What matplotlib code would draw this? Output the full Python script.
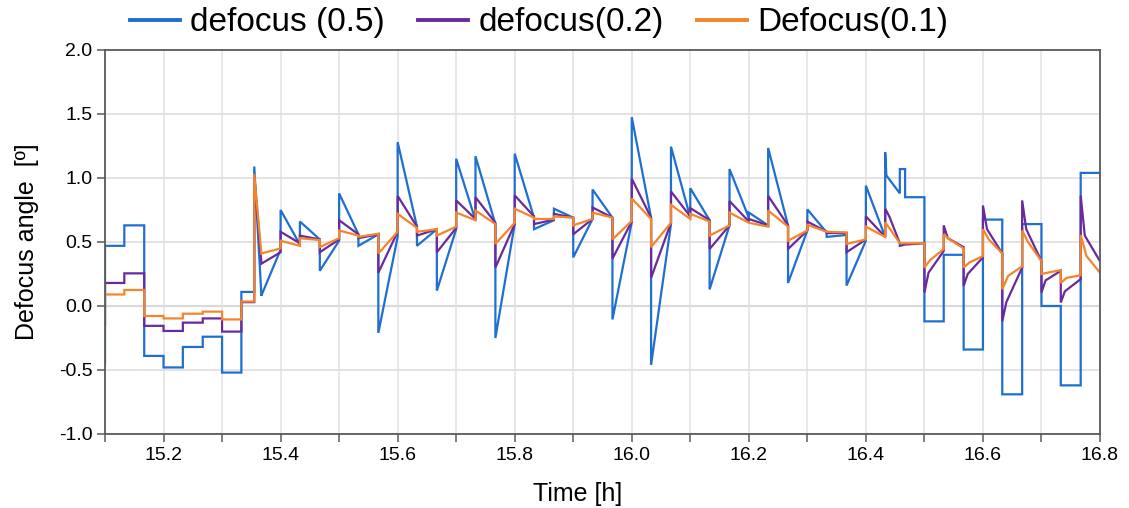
import numpy as np
import matplotlib
matplotlib.use("Agg")
import matplotlib.pyplot as plt
from matplotlib.ticker import MultipleLocator

plt.rcParams['font.family'] = ['Liberation Sans', 'DejaVu Sans']

# ---- data -------------------------------------------------------------
event_t = [15.100, 15.133, 15.167, 15.200, 15.233, 15.267, 15.300, 15.333, 15.355,
           15.367, 15.400, 15.433, 15.467, 15.500, 15.533, 15.567, 15.600, 15.633,
           15.667, 15.700, 15.733, 15.767, 15.800, 15.833, 15.867, 15.900, 15.933,
           15.967, 16.000, 16.033, 16.067, 16.100, 16.133, 16.167, 16.200, 16.233,
           16.267, 16.300, 16.333, 16.367, 16.400, 16.433, 16.458, 16.467, 16.500,
           16.533, 16.567, 16.600, 16.633, 16.667, 16.700, 16.733, 16.767, 16.800]

labels = ["defocus (0.5)", "defocus(0.2)", "Defocus(0.1)"]

blue_init = -0.45
blue_start = [0.47, 0.63, -0.39, -0.48, -0.32, -0.24, -0.52, 0.11, 1.09, 0.08, 0.75, 0.66,
              0.275, 0.88, 0.47, -0.21, 1.28, 0.47, 0.12, 1.15, 1.17, -0.25, 1.19, 0.60,
              0.76, 0.38, 0.91, -0.105, 1.475, -0.46, 1.245, 0.92, 0.13, 1.07, 0.73, 1.235,
              0.18, 0.755, 0.54, 0.16, 0.94, 1.2, 1.07, 0.85, -0.12, 0.40, -0.34, 0.675,
              -0.69, 0.64, 0.0, -0.62, 1.04]
blue_end = [0.47, 0.63, -0.39, -0.48, -0.32, -0.24, -0.52, 0.11, 0.10, 0.44, 0.48, 0.52,
            0.51, 0.56, 0.56, 0.54, 0.62, 0.60, 0.60, 0.67, 0.64, 0.64, 0.69, 0.67, 0.69,
            0.68, 0.69, 0.655, 0.69, 0.64, 0.69, 0.67, 0.63, 0.69, 0.63, 0.63, 0.59, 0.575,
            0.555, 0.51, 0.54, 0.88, 1.07, 0.85, -0.12, 0.40, -0.34, 0.675, -0.69, 0.64,
            0.0, -0.62, 1.04]
blue_knee_seg = [41]
blue_knee_val = [1.02]

purple_init = -0.15
purple_start = [0.18, 0.255, -0.155, -0.195, -0.13, -0.097, -0.2, 0.03, 1.02, 0.33, 0.58,
                0.55, 0.42, 0.67, 0.53, 0.26, 0.86, 0.55, 0.42, 0.825, 0.85, 0.30, 0.864,
                0.64, 0.72, 0.56, 0.77, 0.37, 0.995, 0.22, 0.895, 0.765, 0.445, 0.82, 0.68,
                0.86, 0.445, 0.66, 0.57, 0.42, 0.70, 0.76, 0.47, 0.48, 0.105, 0.63, 0.157,
                0.785, -0.12, 0.825, 0.105, 0.027, 0.864]
purple_end = [0.18, 0.255, -0.155, -0.195, -0.13, -0.097, -0.2, 0.03, 0.35, 0.42, 0.49,
              0.52, 0.52, 0.56, 0.56, 0.58, 0.62, 0.60, 0.61, 0.68, 0.65, 0.64, 0.70, 0.675,
              0.69, 0.68, 0.69, 0.66, 0.69, 0.65, 0.70, 0.67, 0.63, 0.66, 0.63, 0.63, 0.59,
              0.58, 0.57, 0.52, 0.54, 0.49, 0.48, 0.49, 0.43, 0.46, 0.38, 0.41, 0.30, 0.35,
              0.275, 0.21, 0.35]
purple_knee_seg = [41, 44, 45, 46, 47, 48, 49, 50, 51, 52]
purple_knee_val = [0.70, 0.26, 0.53, 0.25, 0.60, 0.03, 0.60, 0.20, 0.115, 0.55]

orange_init = 0.0
orange_start = [0.09, 0.125, -0.078, -0.097, -0.06, -0.044, -0.105, 0.035, 1.03, 0.41, 0.51,
                0.53, 0.46, 0.59, 0.54, 0.41, 0.72, 0.58, 0.55, 0.73, 0.746, 0.485, 0.76,
                0.68, 0.70, 0.63, 0.73, 0.52, 0.84, 0.46, 0.79, 0.72, 0.55, 0.73, 0.65,
                0.746, 0.51, 0.635, 0.58, 0.485, 0.62, 0.655, 0.49, 0.49, 0.30, 0.56, 0.30,
                0.60, 0.13, 0.59, 0.25, 0.18, 0.555]
orange_end = [0.09, 0.125, -0.078, -0.097, -0.06, -0.044, -0.105, 0.035, 0.42, 0.45, 0.47,
              0.515, 0.53, 0.55, 0.565, 0.58, 0.61, 0.60, 0.62, 0.67, 0.64, 0.65, 0.69, 0.68,
              0.69, 0.68, 0.69, 0.665, 0.68, 0.65, 0.68, 0.66, 0.63, 0.65, 0.62, 0.62, 0.59,
              0.58, 0.575, 0.52, 0.54, 0.49, 0.49, 0.49, 0.445, 0.45, 0.39, 0.41, 0.31, 0.35,
              0.28, 0.24, 0.26]
orange_knee_seg = [44, 45, 46, 47, 48, 49, 50, 51, 52]
orange_knee_val = [0.36, 0.52, 0.34, 0.52, 0.235, 0.50, 0.26, 0.22, 0.39]


def build(init, start, end, knee_seg, knee_val, dt):
    kmap = dict(zip(knee_seg, knee_val))
    ts, vs = [event_t[0]], [init]
    for k in range(len(start)):
        ts.append(event_t[k]); vs.append(start[k])
        if k in kmap:
            ts.append(event_t[k] + dt); vs.append(kmap[k])
        ts.append(event_t[k + 1]); vs.append(end[k])
    return ts, vs


series = [
    build(blue_init, blue_start, blue_end, blue_knee_seg, blue_knee_val, 0.002),
    build(purple_init, purple_start, purple_end, purple_knee_seg, purple_knee_val, 0.007),
    build(orange_init, orange_start, orange_end, orange_knee_seg, orange_knee_val, 0.010),
]
colors = ["#1f6fd0", "#6a2a9e", "#f5852a"]

# ---- figure -----------------------------------------------------------
fig = plt.figure(figsize=(11.29, 5.08), dpi=100)
ax = fig.add_axes([105 / 1129, 1 - 434 / 508, 995 / 1129, 384 / 508])

for (ts, vs), c, lab in zip(series, colors, labels):
    ax.plot(ts, vs, color=c, lw=1.6, label=lab, solid_joinstyle='miter')

ax.set_xlim(15.1, 16.8)
ax.set_ylim(-1.0, 2.0)
ax.xaxis.set_major_locator(MultipleLocator(0.2))
ax.xaxis.set_minor_locator(MultipleLocator(0.1))
ax.yaxis.set_major_locator(MultipleLocator(0.5))
ax.xaxis.set_major_formatter(plt.FuncFormatter(lambda v, p: f"{v:.1f}"))
ax.yaxis.set_major_formatter(plt.FuncFormatter(lambda v, p: f"{v:.1f}"))

ax.grid(True, which='both', axis='x', color='#e4e4e4', lw=1.2)
ax.grid(True, which='major', axis='y', color='#dedede', lw=1.2)
ax.axhline(0, color='#c4c4c4', lw=1.5, zorder=0.5)
ax.set_axisbelow(True)

for s in ax.spines.values():
    s.set_color('#5a5a5a')
    s.set_linewidth(1.3)
ax.tick_params(axis='both', which='both', direction='out', length=6, width=1.1,
               color='#5a5a5a', labelsize=14, pad=3)
ax.tick_params(axis='x', which='minor', length=6)

ax.set_xlabel("Time [h]", fontsize=18, labelpad=8)
ax.xaxis.set_label_coords(0.475, -0.125)
ax.set_ylabel("Defocus angle  [º]", fontsize=18, labelpad=14)

leg = fig.legend(loc='center', bbox_to_anchor=(539 / 1129, 1 - 23 / 508),
                 ncol=3, frameon=False, fontsize=24, handlelength=1.5, handletextpad=0.3,
                 columnspacing=1.0, borderpad=0.1)
for line in leg.get_lines():
    line.set_linewidth(2.8)

fig.savefig("out.png", dpi=100)
